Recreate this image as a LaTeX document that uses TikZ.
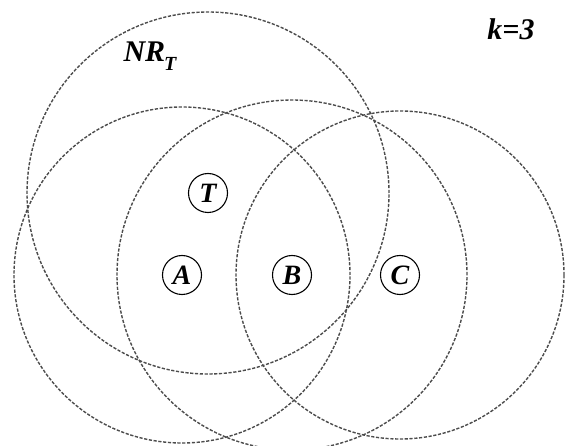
\documentclass[tikz,border=0pt]{standalone}
\usepackage{fontspec}
\setmainfont{Liberation Serif}
\usepackage{tikz}
\usetikzlibrary{positioning}
\tikzset{
  nbrange/.style={draw=black!70, line width=1.4pt, dash pattern=on 3.2pt off 1.6pt},
  sensor/.style ={draw, circle, line width=1.1pt, minimum size=39pt, inner sep=0pt,
                  font=\fontsize{28}{28}\selectfont\bfseries\itshape},
  lbl/.style    ={font=\fontsize{30}{30}\selectfont\bfseries\itshape, inner sep=0pt},
}
\newcommand{\subT}{\kern-1pt\raisebox{-0.3em}{\fontsize{20}{20}\selectfont T}}
\begin{document}
\begin{tikzpicture}[x=1pt, y=-1pt]
  \path[use as bounding box, clip] (0,0) rectangle (565,446);
  % sensor nodes
  \node[sensor] (T) at (208,193) {T};
  \node[sensor] (A) at (182,275) {A};
  \node[sensor] (B) at (292,275) {B};
  \node[sensor] (C) at (400,275) {C};
  % neighbour ranges
  \draw[nbrange] (T) circle[radius=181pt];
  \draw[nbrange] (A) circle[radius=168pt];
  \draw[nbrange] (B) circle[radius=175pt];
  \draw[nbrange] (C) circle[radius=164pt];
  % labels
  \node[lbl, anchor=base] (nr) at (150,62) {NR\subT};
  \node[lbl, anchor=base] (k) at (511,40) {k=3};
\end{tikzpicture}
\end{document}
